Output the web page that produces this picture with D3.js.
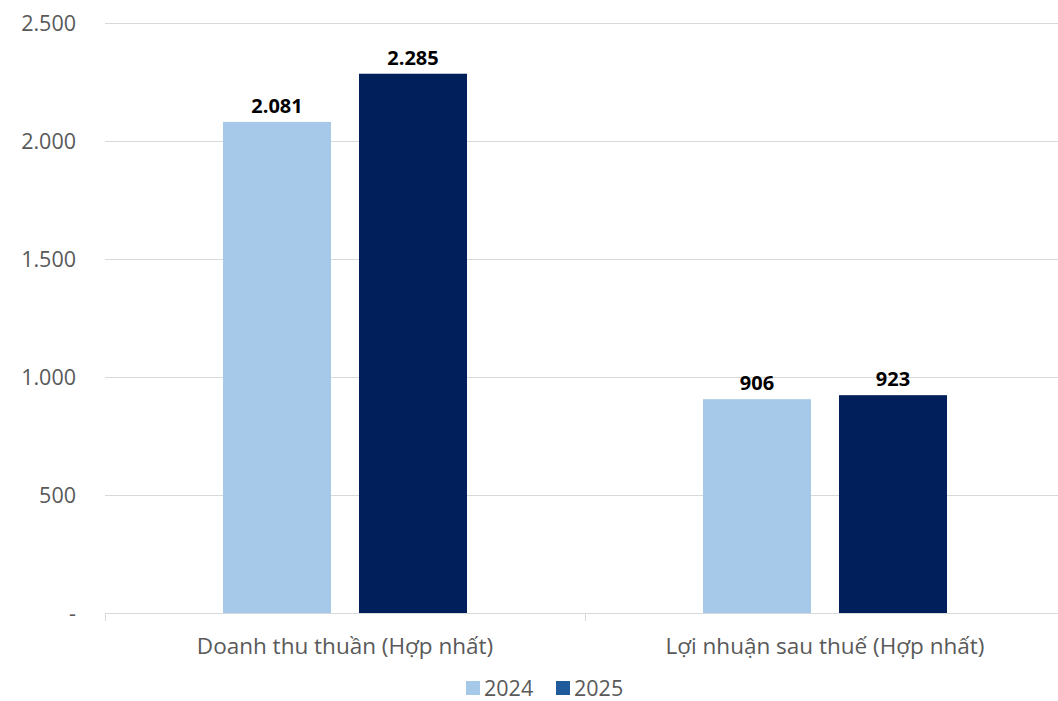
<!DOCTYPE html>
<html>
<head>
<meta charset="utf-8">
<script src="https://cdn.jsdelivr.net/npm/d3@7"></script>
<style>
  body { margin: 0; background: #fff; }
  svg { display: block; font-family: "Open Sans", "Noto Sans", sans-serif; }
</style>
</head>
<body>
<div id="chart"></div>
<script>
var categories = ["Doanh thu thuần (Hợp nhất)", "Lợi nhuận sau thuế (Hợp nhất)"]
var years = ["2024", "2025"]
var values2024 = [2081, 906]
var values2025 = [2285, 923]
var yTicks = [0, 500, 1000, 1500, 2000, 2500]

var barColors = ["#a6c9ea", "#001f5b"]
var legendColors = ["#a6c9ea", "#1f5b9a"]

var width = 1058, height = 701
var plotLeft = 105, plotRight = 1065, plotTop = 23, plotBottom = 613

var vn = d3.formatLocale({decimal: ",", thousands: ".", grouping: [3], currency: ["", ""]})
var fmt = vn.format(",d")

var svg = d3.select("#chart").append("svg")
    .attr("width", width)
    .attr("height", height)

var x = d3.scaleBand()
    .domain(categories)
    .range([plotLeft, plotRight])

var y = d3.scaleLinear()
    .domain([0, 2500])
    .range([plotBottom, plotTop])

// gridlines
svg.append("g").selectAll("line")
    .data(yTicks.slice(1))
    .enter().append("line")
    .attr("x1", plotLeft)
    .attr("x2", width)
    .attr("y1", function(d) { return y(d) + 0.5 })
    .attr("y2", function(d) { return y(d) + 0.5 })
    .attr("stroke", "#d9d9d9")
    .attr("stroke-width", 1)

// y labels
svg.append("g").selectAll("text")
    .data(yTicks)
    .enter().append("text")
    .attr("x", 76)
    .attr("y", function(d) { return y(d) })
    .attr("dy", "0.35em")
    .attr("text-anchor", "end")
    .attr("fill", "#595959")
    .attr("font-size", 21.5)
    .text(function(d) { return d === 0 ? "-" : fmt(d) })

// bars
var series = [values2024, values2025]
var barW = 108, gap = 28
var groups = svg.append("g").selectAll("g")
    .data(categories)
    .enter().append("g")

groups.each(function(cat, ci) {
    var g = d3.select(this)
    var cx = x(cat) + x.bandwidth() / 2
    series.forEach(function(vals, si) {
        var bx = cx + (si === 0 ? -gap / 2 - barW : gap / 2)
        g.append("rect")
            .attr("x", bx)
            .attr("y", y(vals[ci]))
            .attr("width", barW)
            .attr("height", y(0) - y(vals[ci]))
            .attr("fill", barColors[si])
        g.append("text")
            .attr("x", bx + barW / 2)
            .attr("y", y(vals[ci]) - 9)
            .attr("text-anchor", "middle")
            .attr("font-size", 20)
            .attr("font-weight", "bold")
            .attr("fill", "#000")
            .text(fmt(vals[ci]))
    })
})

// x axis
svg.append("line")
    .attr("x1", plotLeft)
    .attr("x2", width)
    .attr("y1", plotBottom + 0.5)
    .attr("y2", plotBottom + 0.5)
    .attr("stroke", "#d9d9d9")
svg.append("g").selectAll("line")
    .data([plotLeft, x(categories[1])])
    .enter().append("line")
    .attr("x1", function(d) { return d + 0.5 })
    .attr("x2", function(d) { return d + 0.5 })
    .attr("y1", plotBottom)
    .attr("y2", plotBottom + 8)
    .attr("stroke", "#d9d9d9")

svg.append("g").selectAll("text")
    .data(categories)
    .enter().append("text")
    .attr("x", function(d) { return x(d) + x.bandwidth() / 2 })
    .attr("y", 654)
    .attr("text-anchor", "middle")
    .attr("fill", "#595959")
    .attr("font-size", 22.5)
    .text(function(d) { return d })

// legend
var legendX = [466, 556]
var legend = svg.append("g").selectAll("g")
    .data(years)
    .enter().append("g")
    .attr("transform", function(d, i) { return "translate(" + legendX[i] + ",681)" })
legend.append("rect")
    .attr("width", 14)
    .attr("height", 14)
    .attr("fill", function(d, i) { return legendColors[i] })
legend.append("text")
    .attr("x", 18)
    .attr("y", 7)
    .attr("dy", "0.35em")
    .attr("fill", "#595959")
    .attr("font-size", 21.5)
    .text(function(d) { return d })
</script>
</body>
</html>
